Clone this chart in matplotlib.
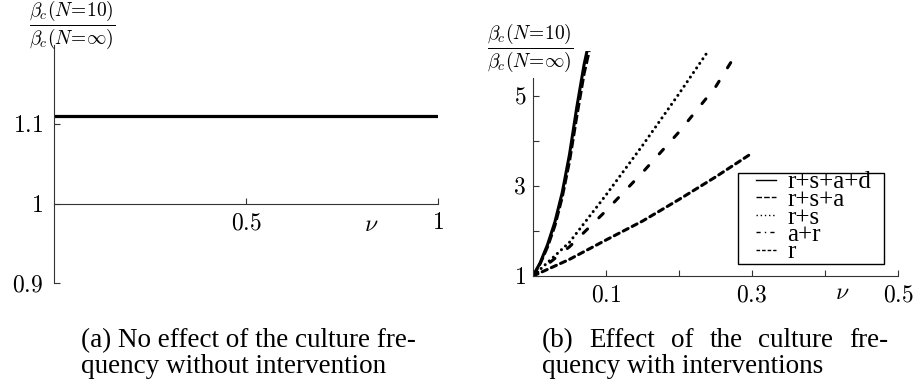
import matplotlib
matplotlib.use("Agg")
import matplotlib.pyplot as plt
from matplotlib.lines import Line2D
from matplotlib.patches import Rectangle

plt.rcParams['mathtext.fontset'] = 'cm'
plt.rcParams['font.family'] = ['Liberation Serif', 'DejaVu Serif']

# (a) ratio without intervention, flat in nu
nu_flat = [0.0, 1.0]
ratio_flat = [1.11, 1.11]

# (b) ratio for each intervention set
nu_rsad = [0, 0.01, 0.02, 0.03, 0.04, 0.05, 0.06, 0.07, 0.074]
val_rsad = [1, 1.3, 1.7, 2.2, 2.85, 3.7, 4.75, 5.7, 6.0]
nu_rsa = [0, 0.01, 0.02, 0.03, 0.04, 0.05, 0.06, 0.07, 0.077]
val_rsa = [1, 1.28, 1.65, 2.12, 2.75, 3.55, 4.55, 5.5, 6.0]
nu_rs = [0, 0.05, 0.1, 0.15, 0.2, 0.24]
val_rs = [1, 1.75, 2.8, 3.9, 5.05, 6.0]
nu_ar = [0, 0.05, 0.1, 0.15, 0.2, 0.25, 0.275]
val_ar = [1, 1.65, 2.45, 3.3, 4.2, 5.2, 5.85]
nu_r = [0, 0.05, 0.1, 0.15, 0.2, 0.25, 0.3]
val_r = [1, 1.37, 1.8, 2.22, 2.7, 3.2, 3.73]

labels = ["r+s+a+d", "r+s+a", "r+s", "a+r", "r"]

W, H = 919, 383
fig = plt.figure(figsize=(W / 100, H / 100), dpi=100)

def px_box(x0, y0, x1, y1):
    return [x0 / W, 1 - y1 / H, (x1 - x0) / W, (y1 - y0) / H]

axis_col = '#333333'
tick_fs = 17

def style_axes(ax):
    for s in ['top', 'right']:
        ax.spines[s].set_visible(False)
    for s in ['left', 'bottom']:
        ax.spines[s].set_color(axis_col)
        ax.spines[s].set_linewidth(0.8)
    ax.tick_params(direction='in', length=4, width=0.8, color=axis_col,
                   labelsize=tick_fs)
    ax.patch.set_visible(False)

# ---- panel (a)
ax1 = fig.add_axes(px_box(54, 45, 438, 283))
ax1.plot(nu_flat, ratio_flat, color='black', lw=2.3, solid_capstyle='butt')
ax1.set_xlim(0, 1)
ax1.set_ylim(0.9, 1.2)
style_axes(ax1)
ax1.spines['bottom'].set_position(('data', 1.0))
ax1.set_yticks([0.9, 1.0, 1.1])
ax1.set_yticklabels([r'$0.9$', r'$1$', r'$1.1$'])
ax1.set_xticks([0.5, 1.0])
ax1.set_xticklabels([r'$0.5$', r'$1$'])
ax1.tick_params(axis='y', pad=8)
ax1.tick_params(axis='x', pad=7)
ax1.text(0.826, 0.972, r'$\nu$', fontsize=tick_fs, ha='center', va='center')

# ---- panel (b)
lw = 2.2
ax2 = fig.add_axes(px_box(533, 51, 898, 276))
ax2.plot(nu_rsad, val_rsad, color='black', lw=lw, solid_capstyle='round')
ax2.plot(nu_rsa, val_rsa, color='black', lw=lw, dashes=(3.0, 1.0),
         dash_capstyle='butt')
ax2.plot(nu_rs, val_rs, color='black', lw=lw, dashes=(0.01, 1.8),
         dash_capstyle='round')
ax2.plot(nu_ar, val_ar, color='black', lw=lw, dashes=(2.0, 5.2),
         dash_capstyle='round')
ax2.plot(nu_r, val_r, color='black', lw=lw, dashes=(1.8, 1.5),
         dash_capstyle='round')
ax2.set_xlim(0, 0.5)
ax2.set_ylim(1, 6)
style_axes(ax2)
ax2.spines['left'].set_bounds(1, 5.4)
ax2.set_yticks([1, 3, 5])
ax2.set_yticklabels([r'$1$', r'$3$', r'$5$'])
ax2.set_yticks([2, 4], minor=True)
ax2.set_xticks([0.1, 0.3, 0.5])
ax2.set_xticklabels([r'$0.1$', r'$0.3$', r'$0.5$'])
ax2.set_xticks([0.2, 0.4], minor=True)
ax2.tick_params(which='minor', direction='in', length=4, width=0.8,
                color=axis_col)
ax2.tick_params(axis='y', pad=5)
ax2.tick_params(axis='x', pad=7)
ax2.text(0.423, 0.62, r'$\nu$', fontsize=tick_fs, ha='center', va='center')

# legend: entries without frame, box drawn separately
handles = [
    Line2D([], [], color='black', lw=1.0),
    Line2D([], [], color='black', lw=1.0, dashes=(4, 1.5)),
    Line2D([], [], color='black', lw=1.0, dashes=(1, 2)),
    Line2D([], [], color='black', lw=1.0, dashes=(3, 3, 1, 3)),
    Line2D([], [], color='black', lw=1.0, dashes=(2.6, 1.4)),
]
fig.legend(handles, labels, loc='upper left',
           bbox_to_anchor=(756 / W, 1 - 171 / H), borderaxespad=0,
           fontsize=18, frameon=False,
           handlelength=0.8, handletextpad=0.45, labelspacing=-0.2,
           borderpad=0.0)
fig.patches.append(Rectangle((738 / W, 1 - 264 / H), 146 / W, 91 / H,
                             transform=fig.transFigure, fill=False,
                             edgecolor='black', lw=1.0))

# y-axis label fractions
ylab = r'$\dfrac{\beta_c(N\!=\!10)}{\beta_c(N\!=\!\infty)}$'
fig.text(72 / W, 1 - 25 / H, ylab, fontsize=14, ha='center', va='center')
fig.text(530 / W, 1 - 48 / H, ylab, fontsize=14, ha='center', va='center')

# captions
cap_fs = 19.5
fig.text(81 / W, 1 - 347 / H, "(a) No effect of the culture fre-",
         fontsize=cap_fs, ha='left', va='baseline')
fig.text(81 / W, 1 - 373 / H, "quency without intervention",
         fontsize=cap_fs, ha='left', va='baseline')
fig.text(542 / W, 1 - 373 / H, "quency with interventions",
         fontsize=cap_fs, ha='left', va='baseline')

# justified first line of caption (b)
words = ["(b)", "Effect", "of", "the", "culture", "fre-"]
renderer = fig.canvas.get_renderer()
word_txt = [fig.text(0, 1 - 347 / H, w, fontsize=cap_fs, ha='left',
                     va='baseline') for w in words]
widths = [t.get_window_extent(renderer).width for t in word_txt]
x0, x1 = 542, 888
gap = (x1 - x0 - sum(widths)) / (len(words) - 1)
x = x0
for t, w in zip(word_txt, widths):
    t.set_x(x / W)
    x += w + gap

fig.savefig("out.png", dpi=100)
